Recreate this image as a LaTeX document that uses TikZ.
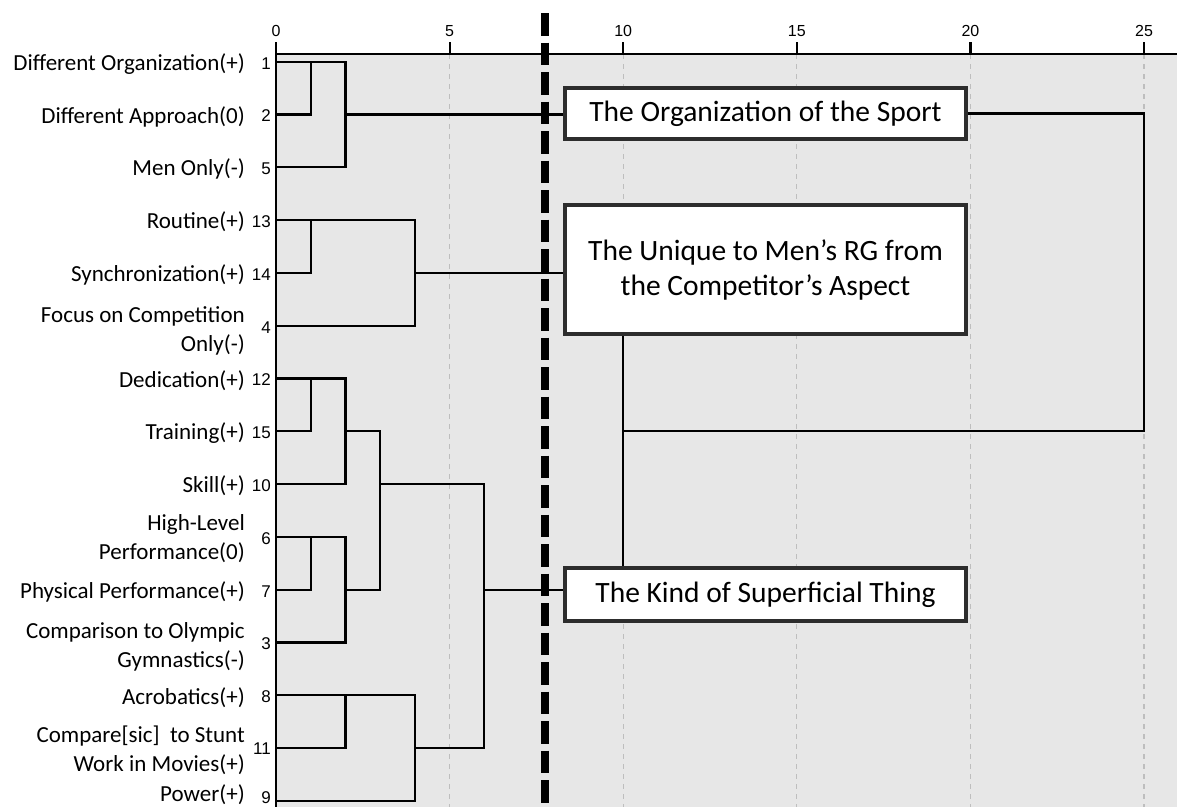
\documentclass[tikz,border=0pt]{standalone}
\usepackage{fontspec}
\setmainfont{Carlito}
\newfontfamily\numfont{Liberation Sans}
\definecolor{bggray}{RGB}{231,231,231}
\definecolor{gridgray}{RGB}{190,190,190}
\definecolor{boxline}{RGB}{45,45,45}
\tikzset{
  dend/.style={line width=2.2pt, draw=black},
  axisline/.style={line width=2.2pt, draw=black},
  gridline/.style={line width=1.3pt, draw=gridgray, dash pattern=on 5pt off 5pt},
  cutline/.style={line width=7.5pt, draw=black, dash pattern=on 22.5pt off 7pt},
  cbox/.style={draw=boxline, line width=3.2pt, fill=white, minimum width=401pt, inner sep=0pt, align=center, font=\fontsize{29.5}{35}\selectfont},
  lab/.style={anchor=east, inner sep=0pt, align=right, font=\fontsize{23}{29}\selectfont},
  num/.style={anchor=east, inner sep=0pt, font=\numfont\fontsize{17}{18}\selectfont},
  ticklab/.style={inner sep=0pt, font=\numfont\fontsize{16}{17}\selectfont}
}
\begin{document}
\begin{tikzpicture}[x=1pt,y=-1pt]
\useasboundingbox (0,0) rectangle (1177,807);
\fill[bggray] (276,54) rectangle (1177,807);
% grid
\foreach \v in {5,10,15,20,25} {
  \draw[gridline] ({276+\v*34.72},54) -- ({276+\v*34.72},807);
}
% axis
\foreach \v in {0,5,10,15,20,25} {
  \node[ticklab] (t\v) at ({276+\v*34.72},31) {\v};
  \draw[axisline] ({276+\v*34.72},42) -- ({276+\v*34.72},54);
}
\draw[axisline] (276,54) -- (1177,54);
\draw[axisline] (276,42) -- (276,807);
% x levels
\coordinate (X1) at (310.72,0);
\coordinate (X2) at (345.44,0);
\coordinate (X3) at (380.16,0);
\coordinate (X4) at (414.88,0);
\coordinate (X6) at (484.32,0);
\coordinate (X10) at (623.2,0);
\coordinate (X25) at (1144,0);
% leaves
\coordinate (L1) at (276,61.7);
\coordinate (L2) at (276,114.5);
\coordinate (L5) at (276,167.3);
\coordinate (L13) at (276,220.1);
\coordinate (L14) at (276,272.9);
\coordinate (L4) at (276,325.7);
\coordinate (L12) at (276,378.5);
\coordinate (L15) at (276,431.3);
\coordinate (L10) at (276,484.1);
\coordinate (L6) at (276,536.9);
\coordinate (L7) at (276,589.7);
\coordinate (L3) at (276,642.5);
\coordinate (L8) at (276,695.3);
\coordinate (L11) at (276,748.1);
\coordinate (L9) at (276,800.9);
% cluster boxes
\node[cbox, minimum height=51pt] (B1) at (765.5,113.5) {The Organization of the Sport};
\node[cbox, minimum height=129pt] (B2) at (765.5,269.5) {The Unique to Men’s RG from\\the Competitor’s Aspect};
\node[cbox, minimum height=53pt] (B3) at (765.5,594.5) {The Kind of Superficial Thing};
% group A
\draw[dend] (L1) -- (L1 -| X2) -- (L5 -| X2) -- (L5);
\draw[dend] (L2) -- (L2 -| X1) -- (L1 -| X1);
\draw[dend] (L2 -| X2) -- (L2 -| B1.west);
% group B
\draw[dend] (L13) -- (L13 -| X4) -- (L4 -| X4) -- (L4);
\draw[dend] (L14) -- (L14 -| X1) -- (L13 -| X1);
\draw[dend] (L14 -| X4) -- (L14 -| B2.west);
% group C
\draw[dend] (L12) -- (L12 -| X2) -- (L10 -| X2) -- (L10);
\draw[dend] (L15) -- (L15 -| X1) -- (L12 -| X1);
\draw[dend] (L15 -| X2) -- (L15 -| X3) -- (L7 -| X3) -- (L7 -| X2);
\draw[dend] (L6) -- (L6 -| X2) -- (L3 -| X2) -- (L3);
\draw[dend] (L7) -- (L7 -| X1) -- (L6 -| X1);
\draw[dend] (L10 -| X3) -- (L10 -| X6) -- (L11 -| X6) -- (L11 -| X4);
\draw[dend] (L8) -- (L8 -| X4) -- (L9 -| X4) -- (L9);
\draw[dend] (L11) -- (L11 -| X2) -- (L8 -| X2);
\draw[dend] (L7 -| X6) -- (L7 -| B3.west);
% top-level joins
\draw[dend] (B1.east) -- (B1.east -| X25) -- (L15 -| X25) -- (L15 -| X10);
\draw[dend] (B2.south -| X10) -- (B3.north -| X10);
% cut line
\draw[cutline] (545,13) -- (545,807);
% labels
\node[lab] (n1) at (245,63.7) {Different Organization(+)};
\node[lab] (n2) at (245,116.5) {Different Approach(0)};
\node[lab] (n5) at (245,169.3) {Men Only(-)};
\node[lab] (n13) at (245,222.1) {Routine(+)};
\node[lab] (n14) at (245,274.9) {Synchronization(+)};
\node[lab] (n4) at (245,330.7) {Focus on Competition\\Only(-)};
\node[lab] (n12) at (245,380.5) {Dedication(+)};
\node[lab] (n15) at (245,433.3) {Training(+)};
\node[lab] (n10) at (245,486.1) {Skill(+)};
\node[lab] (n6) at (245,538.9) {High-Level\\Performance(0)};
\node[lab] (n7) at (245,591.7) {Physical Performance(+)};
\node[lab] (n3) at (245,646.5) {Comparison to Olympic\\Gymnastics(-)};
\node[lab] (n8) at (245,697.3) {Acrobatics(+)};
\node[lab] (n11) at (245,750.1) {Compare[sic]~ to Stunt\\Work in Movies(+)};
\node[lab] (n9) at (245,794.5) {Power(+)};
% numbers
\node[num] (k1) at (271,63.2) {1};
\node[num] (k2) at (271,116.0) {2};
\node[num] (k5) at (271,168.8) {5};
\node[num] (k13) at (271,221.6) {13};
\node[num] (k14) at (271,274.4) {14};
\node[num] (k4) at (271,327.2) {4};
\node[num] (k12) at (271,380.0) {12};
\node[num] (k15) at (271,432.8) {15};
\node[num] (k10) at (271,485.6) {10};
\node[num] (k6) at (271,538.4) {6};
\node[num] (k7) at (271,591.2) {7};
\node[num] (k3) at (271,644.0) {3};
\node[num] (k8) at (271,696.8) {8};
\node[num] (k11) at (271,748.6) {11};
\node[num] (k9) at (271,798.0) {9};
\end{tikzpicture}
\end{document}
